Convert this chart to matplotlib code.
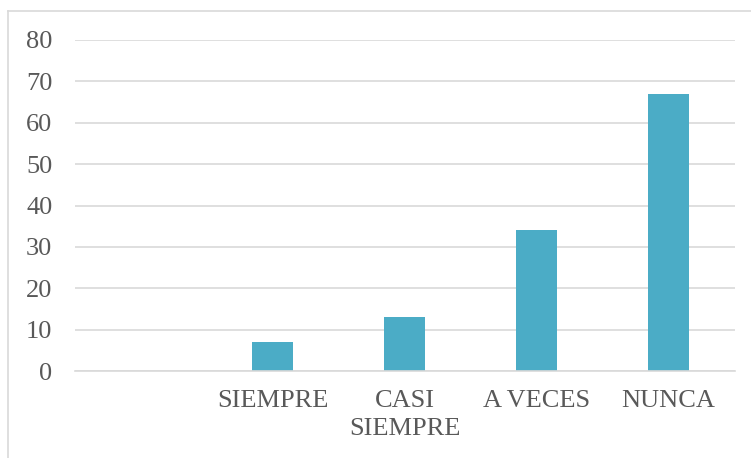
import matplotlib
matplotlib.use("Agg")
import matplotlib.pyplot as plt
from matplotlib.lines import Line2D

categories = ["", "SIEMPRE", "CASI\nSIEMPRE", "A VECES", "NUNCA"]
values = [0, 7, 13, 34, 67]
yticks = [0, 10, 20, 30, 40, 50, 60, 70, 80]

plt.rcParams['font.family'] = ['Liberation Serif', 'DejaVu Serif']

fig = plt.figure(figsize=(7.51, 4.58), dpi=100)
ax = fig.add_axes([74.5/751, 1-371/458, 660/751, 331/458])

x = list(range(len(categories)))
ax.bar(x, values, width=0.31, color="#4BACC6", zorder=3)
ax.set_xlim(-0.5, len(categories)-0.5)
ax.set_ylim(0, 80)
ax.set_yticks(yticks)
ax.set_xticks(x)
ax.set_xticklabels(categories, linespacing=1.35)
ax.grid(axis='y', color="#D9D9D9", linewidth=1.2, zorder=0)
for s in ['top', 'right', 'left']:
    ax.spines[s].set_visible(False)
ax.spines['bottom'].set_color("#D9D9D9")
ax.spines['bottom'].set_linewidth(1.2)
ax.spines['bottom'].set_zorder(4)
ax.tick_params(axis='both', length=0, labelsize=19, labelcolor="#595959")
ax.tick_params(axis='y', pad=16)
ax.tick_params(axis='x', pad=14)

# outer border
fig.add_artist(Line2D([8/751, 8/751], [0, 1-11/458], transform=fig.transFigure, color="#D9D9D9", lw=1.2))
fig.add_artist(Line2D([8/751, 1], [1-11/458, 1-11/458], transform=fig.transFigure, color="#D9D9D9", lw=1.2))

fig.savefig("out.png", dpi=100)
